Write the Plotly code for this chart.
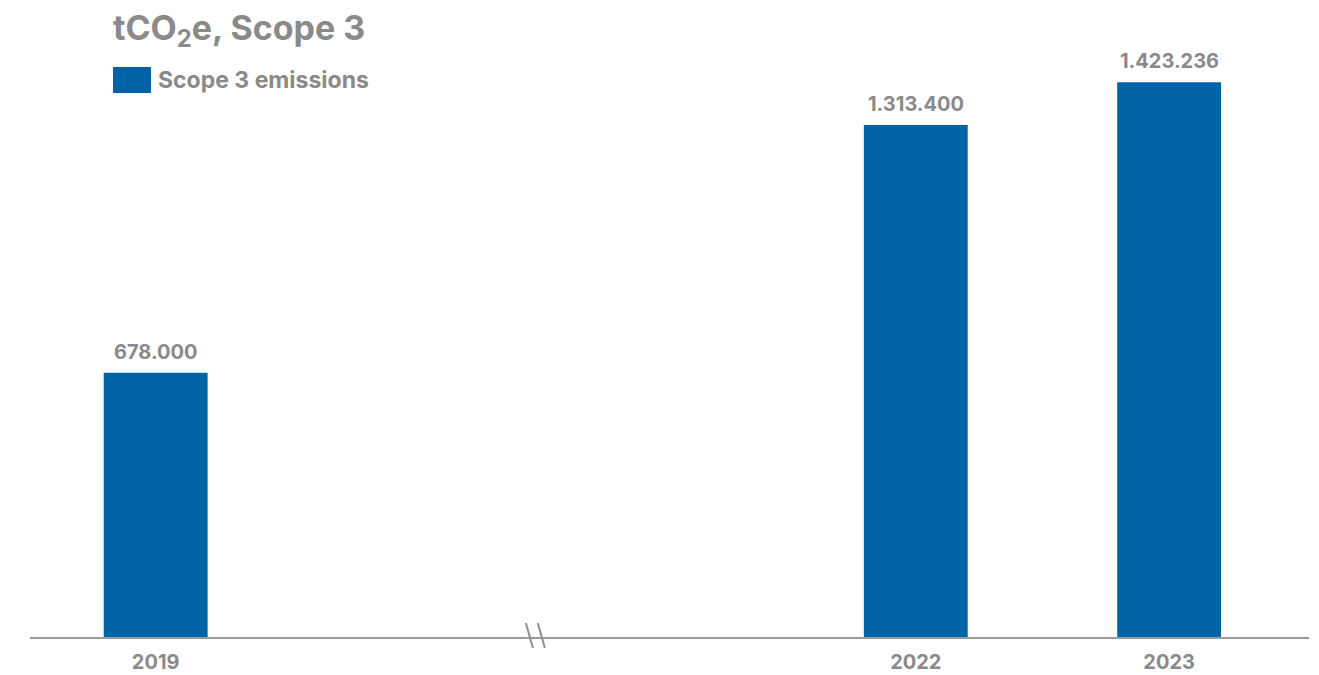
import plotly.graph_objects as go

categories = ["2019", "2022", "2023"]
positions = [0, 3, 4]
values = [678000, 1313400, 1423236]
labels = ["678.000", "1.313.400", "1.423.236"]
series_name = "Scope 3 emissions"
title_text = "tCO<sub>2</sub>e, Scope 3"

BLUE = "#0064A7"
GRAY = "#8A8A8A"
FONT = "Inter"

OFF = 8  # page body margin
W, H = 1319 - OFF, 675 - OFF
SX0, SX1, SY0, SY1 = 30, 1309, 60, 637  # plot area on screen
ML = SX0 - OFF
MR = W - (SX1 - OFF)
MT = SY0 - OFF
MB = H - (SY1 - OFF)

pw = SX1 - SX0
ph = SY1 - SY0
def px_x(p):
    return (p - SX0) / pw
def px_y(p):
    return (SY1 - p) / ph

fig = go.Figure()
fig.add_trace(go.Bar(
    x=positions, y=values, name=series_name,
    marker=dict(color=BLUE, line=dict(width=0)),
    width=0.41, showlegend=False,
))

annotations = []
for xp, v, t in zip(positions, values, labels):
    annotations.append(dict(x=xp, y=v, xref="x", yref="y", text=t,
                            showarrow=False, yanchor="middle", yshift=21,
                            font=dict(family=FONT, size=20, color=GRAY, weight=700)))
annotations.append(dict(text=series_name, xref="paper", yref="paper",
                        x=px_x(156), y=px_y(80), xanchor="left", yanchor="middle",
                        showarrow=False,
                        font=dict(family=FONT, size=23, color=GRAY, weight=700)))

shapes = [
    dict(type="rect", xref="paper", yref="paper",
         x0=px_x(113), x1=px_x(151), y0=px_y(93), y1=px_y(67),
         fillcolor=BLUE, line=dict(width=0)),
]
for dx in (-0.025, 0.022):
    shapes.append(dict(type="line", xref="x", yref="paper",
                       x0=1.5 + dx - 0.014, x1=1.5 + dx + 0.014,
                       y0=px_y(623), y1=px_y(648),
                       line=dict(color="#8f8f8f", width=2)))

fig.update_layout(
    width=W, height=H, autosize=False,
    margin=dict(l=ML, r=MR, t=MT, b=MB, pad=0, autoexpand=False),
    paper_bgcolor="white", plot_bgcolor="white",
    title=dict(text=title_text, x=(113 - OFF) / W, xanchor="left", xref="container",
               y=1 - (28 - OFF) / H, yanchor="middle", yref="container",
               automargin=False,
               font=dict(family=FONT, size=34, color=GRAY, weight=700)),
    xaxis=dict(range=[-0.496, 4.552], tickmode="array", tickvals=positions,
               ticktext=categories, showgrid=False, zeroline=False,
               showline=True, linecolor="#9a9a9a", linewidth=1.5,
               ticks="", ticklabelstandoff=6, automargin=False,
               tickfont=dict(family=FONT, size=20, color=GRAY, weight=700)),
    yaxis=dict(range=[0, 1480000], visible=False, showgrid=False, zeroline=False,
               automargin=False),
    shapes=shapes,
    annotations=annotations,
    showlegend=False,
)

fig.write_html("out.html")
